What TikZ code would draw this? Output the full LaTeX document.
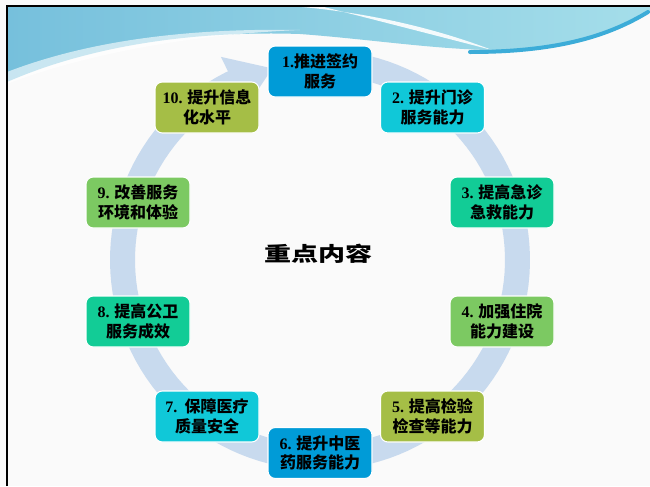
\documentclass[tikz,border=0pt]{standalone}
\usepackage{fontspec}
\usepackage{graphicx}
\newfontfamily\cjk{Noto Sans CJK SC}
\newfontfamily\numf{Liberation Serif}
\definecolor{bgc}{RGB}{250,250,250}
\definecolor{ringc}{RGB}{200,218,238}
\definecolor{cblue}{RGB}{0,155,215}
\definecolor{ccyan}{RGB}{16,200,216}
\definecolor{cteal}{RGB}{18,204,150}
\definecolor{cgreen}{RGB}{124,201,98}
\definecolor{colive}{RGB}{165,190,70}
\definecolor{wavel}{RGB}{118,192,220}
\definecolor{waver}{RGB}{165,222,234}
\definecolor{wavedark}{RGB}{60,172,216}
\tikzset{
  stage/.style={draw=white, line width=0.8pt, rounded corners=5.5pt,
    minimum width=78pt, minimum height=38.25pt, inner sep=0pt,
    align=center, text=black,
    font=\cjk\bfseries\fontsize{12pt}{14.5pt}\selectfont},
  title/.style={font=\cjk\bfseries\fontsize{15pt}{18pt}\selectfont, inner sep=0pt}
}
\begin{document}
\begin{tikzpicture}[x=0.75pt,y=-0.75pt]
\useasboundingbox (0,0) rectangle (650,486);
\fill[bgc] (0,0) rectangle (650,486);
% top wave
\shade[left color=wavel, right color=waver]
  (7,6) -- (650,6) -- (650,12)
  .. controls (620,30) and (580,48) .. (520,50)
  .. controls (450,52) and (380,40) .. (300,34)
  .. controls (180,30) and (80,50) .. (7,82) -- cycle;
\fill[white, opacity=0.9] (290,6) .. controls (370,12) and (440,30) .. (492,50)
  .. controls (430,34) and (360,16) .. (320,6) -- cycle;
\fill[white, opacity=0.6] (7,72) .. controls (90,40) and (190,28) .. (300,30)
  .. controls (200,34) and (90,52) .. (7,84) -- cycle;
\draw[wavedark, line width=3pt, line cap=round] (470,52) .. controls (560,52) and (610,35) .. (648,12);
% border
\draw[black, line width=2pt] (7,486) -- (7,6) -- (650,6);
% ring arrow
\draw[ringc, line width=18.75pt] plot[domain=275:606, samples=120]
  ({320+197.5*cos(\x)},{260+197.5*sin(\x)});
\fill[ringc] ({320+226*cos(604)},{260+226*sin(604)})
  -- ({320+197.5*cos(616)},{260+197.5*sin(616)})
  -- ({320+169*cos(604)},{260+169*sin(604)}) -- cycle;
% boxes
\node[stage, fill=cblue]  (n1)  at (320,71.5)  {{\numf 1.}推进签约\\服务};
\node[stage, fill=ccyan]  (n2)  at (432.5,107.5) {{\numf 2.} 提升门诊\\服务能力};
\node[stage, fill=cteal]  (n3)  at (502,202.5) {{\numf 3.} 提高急诊\\急救能力};
\node[stage, fill=cgreen] (n4)  at (502,321.5) {{\numf 4.} 加强住院\\能力建设};
\node[stage, fill=colive] (n5)  at (432.5,416.5) {{\numf 5.} 提高检验\\检查等能力};
\node[stage, fill=cblue]  (n6)  at (320,453) {{\numf 6.} 提升中医\\药服务能力};
\node[stage, fill=ccyan]  (n7)  at (207,416.5) {{\numf 7.}\ \ 保障医疗\\质量安全};
\node[stage, fill=cteal]  (n8)  at (138,321.5) {{\numf 8.} 提高公卫\\服务成效};
\node[stage, fill=cgreen] (n9)  at (138,202.5) {{\numf 9.} 改善服务\\环境和体验};
\node[stage, fill=colive] (n10) at (207,107.5) {{\numf 10.} 提升信息\\化水平};
\node[title] (t) at (318,254) {\scalebox{1.35}[1]{重点内容}};
\end{tikzpicture}
\end{document}
